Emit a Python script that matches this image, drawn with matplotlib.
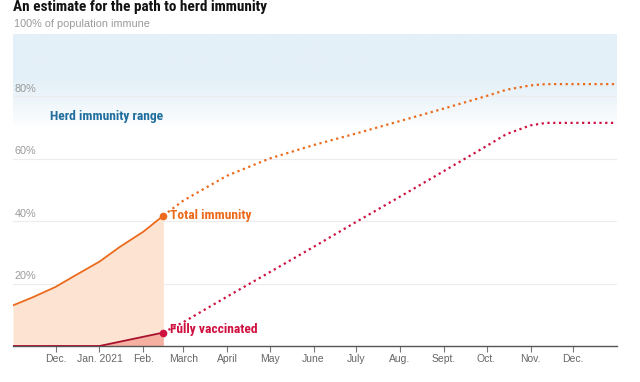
import numpy as np
import matplotlib
matplotlib.use("Agg")
import matplotlib.pyplot as plt
import matplotlib.dates as mdates
from matplotlib.colors import LinearSegmentedColormap

plt.rcParams['font.family'] = ['Liberation Sans', 'DejaVu Sans']
bold_fam = ['Roboto Condensed', 'Open Sans Condensed', 'DejaVu Sans']

# observed data (through mid-February 2021)
hist_dates = np.array(['2020-11-01', '2020-11-15', '2020-12-01', '2020-12-15', '2021-01-01',
                       '2021-01-15', '2021-02-01', '2021-02-15'], dtype='datetime64[D]')
hist_total = [13.0, 15.6, 18.9, 22.6, 27.0, 31.6, 36.6, 41.7]
vacc_dates = np.array(['2020-11-01', '2021-01-01', '2021-02-15'], dtype='datetime64[D]')
vacc_hist = [0.0, 0.0, 4.3]

# projections
proj_dates = np.array(['2021-02-15', '2021-03-01', '2021-04-01', '2021-05-01', '2021-06-01',
                       '2021-07-01', '2021-08-01', '2021-09-01', '2021-10-01', '2021-10-15',
                       '2021-11-01', '2021-11-12', '2021-12-01', '2021-12-31'], dtype='datetime64[D]')
proj_total = [41.7, 46.5, 54.5, 60.0, 64.3, 68.0, 72.0, 76.0, 80.0, 82.0, 83.4, 83.8, 83.8, 83.8]
proj_vacc = [4.3, 7.6, 15.8, 23.6, 31.7, 39.7, 47.8, 56.0, 64.0, 67.8, 70.6, 71.4, 71.4, 71.4]

herd_low, herd_high = 70, 100
y_ticks = [20, 40, 60, 80]
month_ticks = np.array(['2020-12-01', '2021-01-01', '2021-02-01', '2021-03-01', '2021-04-01',
                        '2021-05-01', '2021-06-01', '2021-07-01', '2021-08-01', '2021-09-01',
                        '2021-10-01', '2021-11-01', '2021-12-01'], dtype='datetime64[D]')
month_labels = ['Dec.', 'Jan. 2021', 'Feb.', 'March', 'April', 'May', 'June', 'July',
                'Aug.', 'Sept.', 'Oct.', 'Nov.', 'Dec.']

orange = '#ec6a1c'
red = '#cf1140'
blue = '#1f6e9e'

fig = plt.figure(figsize=(6.4, 3.82), dpi=100)
ax = fig.add_axes([13/640, 1-346/382, 604/640, (346-33.5)/382])

x0 = mdates.date2num(np.datetime64('2020-11-01'))
x1 = mdates.date2num(np.datetime64('2022-01-01'))
ax.set_xlim(x0, x1)
ax.set_ylim(0, 100)

# herd immunity band, fading to white at the bottom
cmap = LinearSegmentedColormap.from_list('band', ['#ffffff', '#e4f0f8'])
grad = np.clip(np.linspace(0, 1, 300) * 2.0, 0, 1).reshape(-1, 1) ** 0.8
ax.imshow(grad, extent=[x0, x1, herd_low, herd_high], origin='lower', aspect='auto',
          cmap=cmap, zorder=0)

for y in y_ticks:
    ax.axhline(y, color='#ececec', lw=0.8, zorder=0.5)
    ax.text(x0 + 1, y + 0.7, f'{y}%', fontsize=7.8, color='#9a9a9a', ha='left', va='bottom')
ax.text(x0 + 1, 101.5, '100% of population immune', fontsize=7.8, color='#9a9a9a',
        ha='left', va='bottom')

hx = mdates.date2num(hist_dates)
vx = mdates.date2num(vacc_dates)
px = mdates.date2num(proj_dates)

ax.fill_between(hx, hist_total, color='#fde4d2', lw=0, zorder=1)
ax.fill_between(vx, vacc_hist, color='#f6b0a2', lw=0, zorder=1.5)
ax.plot(hx, hist_total, color=orange, lw=1.3, zorder=3)
ax.plot(vx, vacc_hist, color='#a8102e', lw=1.3, zorder=3)

ax.plot(px, proj_total, color=orange, lw=1.6, ls=(0, (1, 1.6)), zorder=3)
ax.plot(px, proj_vacc, color=red, lw=1.6, ls=(0, (1, 1.6)), zorder=3)

ax.plot(hx[-1], hist_total[-1], 'o', color=orange, ms=4.5, zorder=4)
ax.plot(vx[-1], vacc_hist[-1], 'o', color=red, ms=4.5, zorder=4)

ax.text(hx[-1] + 4.5, hist_total[-1], 'Total immunity', color=orange, fontsize=9.7,
        fontweight='bold', va='center', ha='left', family=bold_fam)
ax.text(vx[-1] + 4.5, vacc_hist[-1] + 1, 'Fully vaccinated', color=red, fontsize=9.7,
        fontweight='bold', va='center', ha='left', family=bold_fam)
ax.text(mdates.date2num(np.datetime64('2020-11-27')), 73.5, 'Herd immunity range', color=blue,
        fontsize=9.7, fontweight='bold', va='center', ha='left', family=bold_fam)

for s in ['top', 'right', 'left']:
    ax.spines[s].set_visible(False)
ax.spines['bottom'].set_color('#555555')
ax.spines['bottom'].set_linewidth(1)
ax.set_yticks([])
ax.set_xticks(mdates.date2num(month_ticks))
ax.set_xticklabels(month_labels, fontsize=7.5, color='#666666')
ax.tick_params(axis='x', length=4, width=0.8, color='#777777', pad=2)

fig.text(13/640, 1-7/382, 'An estimate for the path to herd immunity', fontsize=11,
         fontweight='bold', ha='left', va='center', color='#121212', family=bold_fam)

fig.savefig('out.png', dpi=100)
